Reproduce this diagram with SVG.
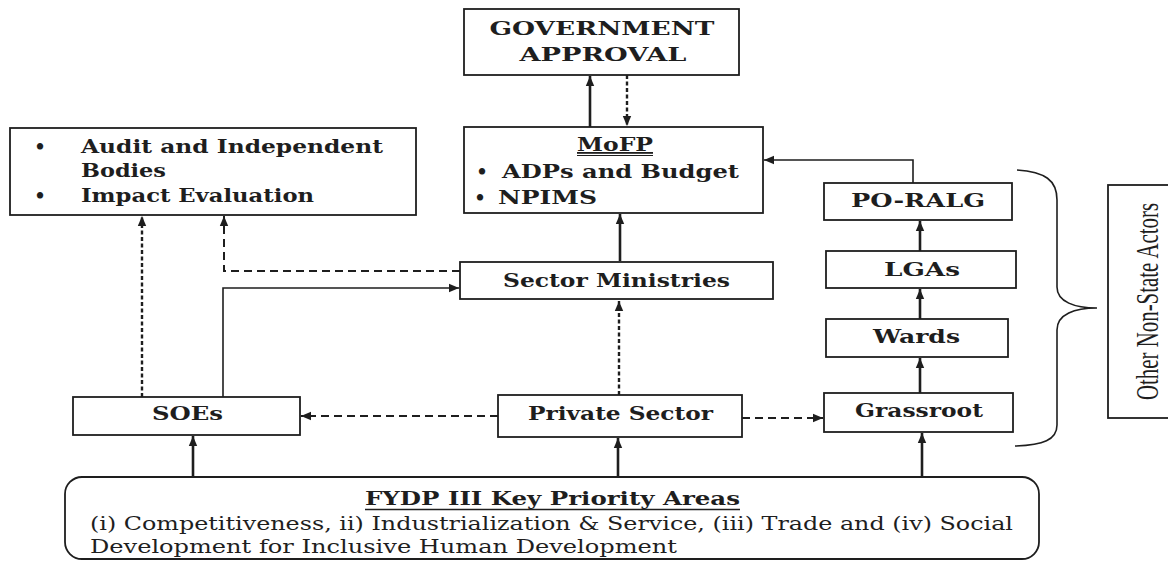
<svg xmlns="http://www.w3.org/2000/svg" width="1168" height="561" viewBox="0 0 1168 561">
<style>
.box{fill:#fff;stroke:#1e1e1e;stroke-width:1.8}
.t{font-family:"DejaVu Serif","Liberation Serif",serif;font-weight:bold;font-size:18px;fill:#1e1e1e}
.r{font-family:"DejaVu Serif","Liberation Serif",serif;font-size:18px;fill:#1e1e1e}
.c{fill:none;stroke:#1e1e1e}
.s{stroke-width:2.6}
.n{stroke-width:1.6}
.d{stroke-width:2.4;stroke-dasharray:4 2.5}
.dl{stroke-width:2;stroke-dasharray:8 5}
</style>
<defs>
<marker id="ah" viewBox="0 0 10 10" refX="10" refY="5" markerWidth="11" markerHeight="10" markerUnits="userSpaceOnUse" orient="auto">
<path d="M0,0.8 L10,5 L0,9.2 z" fill="#1e1e1e"/>
</marker>
</defs>
<rect width="1168" height="561" fill="#fff"/>

<g id="connectors">
<line class="c s" x1="590" y1="127" x2="590" y2="76" marker-end="url(#ah)"/>
<line class="c d" x1="627" y1="75" x2="627" y2="126" marker-end="url(#ah)"/>
<line class="c s" x1="620" y1="261" x2="620" y2="214" marker-end="url(#ah)"/>
<polyline class="c n" points="913,183 913,160 764,160" marker-end="url(#ah)"/>
<line class="c s" x1="920" y1="251" x2="920" y2="221" marker-end="url(#ah)"/>
<line class="c s" x1="920" y1="319" x2="920" y2="289" marker-end="url(#ah)"/>
<line class="c s" x1="920" y1="393" x2="920" y2="358" marker-end="url(#ah)"/>
<line class="c s" x1="922" y1="477" x2="922" y2="433" marker-end="url(#ah)"/>
<line class="c s" x1="618" y1="477" x2="618" y2="438" marker-end="url(#ah)"/>
<line class="c s" x1="193" y1="477" x2="193" y2="436" marker-end="url(#ah)"/>
<line class="c d" x1="619" y1="395" x2="619" y2="301" marker-end="url(#ah)"/>
<line class="c dl" x1="498" y1="416" x2="301" y2="416" marker-end="url(#ah)"/>
<line class="c dl" x1="742" y1="418" x2="823" y2="418" marker-end="url(#ah)"/>
<line class="c d" x1="142" y1="397" x2="142" y2="216" marker-end="url(#ah)"/>
<polyline class="c dl" points="460,271 224,271 224,216" marker-end="url(#ah)"/>
<polyline class="c n" points="223,397 223,288 459,288" marker-end="url(#ah)"/>
</g>

<g id="gov">
<rect class="box" x="464" y="9" width="275" height="66"/>
<text class="t" x="602" y="35" text-anchor="middle" textLength="225" lengthAdjust="spacingAndGlyphs">GOVERNMENT</text>
<text class="t" x="603" y="61" text-anchor="middle" textLength="167" lengthAdjust="spacingAndGlyphs">APPROVAL</text>
</g>

<g id="audit">
<rect class="box" x="10" y="128" width="406" height="87"/>
<text class="t" x="40" y="153" text-anchor="middle">•</text>
<text class="t" x="81" y="153" textLength="302" lengthAdjust="spacingAndGlyphs">Audit and Independent</text>
<text class="t" x="81" y="177" textLength="85" lengthAdjust="spacingAndGlyphs">Bodies</text>
<text class="t" x="40" y="202" text-anchor="middle">•</text>
<text class="t" x="81" y="202" textLength="233" lengthAdjust="spacingAndGlyphs">Impact Evaluation</text>
</g>

<g id="mofp">
<rect class="box" x="464" y="127" width="299" height="86"/>
<text class="t" x="577" y="151" textLength="76" lengthAdjust="spacingAndGlyphs" text-decoration="underline">MoFP</text>
<line x1="577" y1="155.5" x2="653" y2="155.5" stroke="#1e1e1e" stroke-width="1.2"/>
<text class="t" x="482" y="178" text-anchor="middle">•</text>
<text class="t" x="502" y="178" textLength="237" lengthAdjust="spacingAndGlyphs">ADPs and Budget</text>
<text class="t" x="480" y="204" text-anchor="middle">•</text>
<text class="t" x="498" y="204" textLength="99" lengthAdjust="spacingAndGlyphs">NPIMS</text>
</g>

<g id="sector">
<rect class="box" x="460" y="262" width="313" height="37"/>
<text class="t" x="503" y="287" textLength="227" lengthAdjust="spacingAndGlyphs">Sector Ministries</text>
</g>

<g id="poralg">
<rect class="box" x="824" y="183" width="188" height="37"/>
<text class="t" x="851" y="207" textLength="134" lengthAdjust="spacingAndGlyphs">PO-RALG</text>
</g>

<g id="lgas">
<rect class="box" x="826" y="251" width="190" height="37"/>
<text class="t" x="884" y="276" textLength="76" lengthAdjust="spacingAndGlyphs">LGAs</text>
</g>

<g id="wards">
<rect class="box" x="826" y="319" width="182" height="38"/>
<text class="t" x="873" y="343" textLength="87" lengthAdjust="spacingAndGlyphs">Wards</text>
</g>

<g id="grassroot">
<rect class="box" x="824" y="393" width="189" height="39"/>
<text class="t" x="855" y="417" textLength="128" lengthAdjust="spacingAndGlyphs">Grassroot</text>
</g>

<g id="soes">
<rect class="box" x="73" y="397" width="227" height="38"/>
<text class="t" x="152" y="420" textLength="71" lengthAdjust="spacingAndGlyphs">SOEs</text>
</g>

<g id="private">
<rect class="box" x="498" y="395" width="244" height="42"/>
<text class="t" x="528" y="420" textLength="185" lengthAdjust="spacingAndGlyphs">Private Sector</text>
</g>

<g id="brace">
<path d="M1017,170 C1045,172 1057,180 1057,200 L1057,287 C1057,302 1075,308 1097,308 C1075,308 1057,314 1057,330 L1057,425 C1057,440 1043,445 1015,446" fill="none" stroke="#1e1e1e" stroke-width="1.6"/>
</g>

<g id="nonstate">
<rect class="box" x="1108" y="185" width="70" height="233"/>
<text x="1158" y="301.5" transform="rotate(-90 1158 301.5)" text-anchor="middle" font-family="Liberation Serif, serif" font-size="31" fill="#1e1e1e" textLength="197" lengthAdjust="spacingAndGlyphs">Other Non-State Actors</text>
</g>

<g id="fydp">
<rect class="box" x="65" y="477" width="974" height="82" rx="17" ry="17"/>
<text class="t" x="365" y="505" textLength="375" lengthAdjust="spacingAndGlyphs">FYDP III Key Priority Areas</text>
<line x1="365" y1="509.5" x2="740" y2="509.5" stroke="#1e1e1e" stroke-width="1.3"/>
<text class="r" x="90" y="530" textLength="923" lengthAdjust="spacingAndGlyphs">(i) Competitiveness, ii) Industrialization &amp; Service, (iii) Trade and (iv) Social</text>
<text class="r" x="90" y="553" textLength="587" lengthAdjust="spacingAndGlyphs">Development for Inclusive Human Development</text>
</g>
</svg>
